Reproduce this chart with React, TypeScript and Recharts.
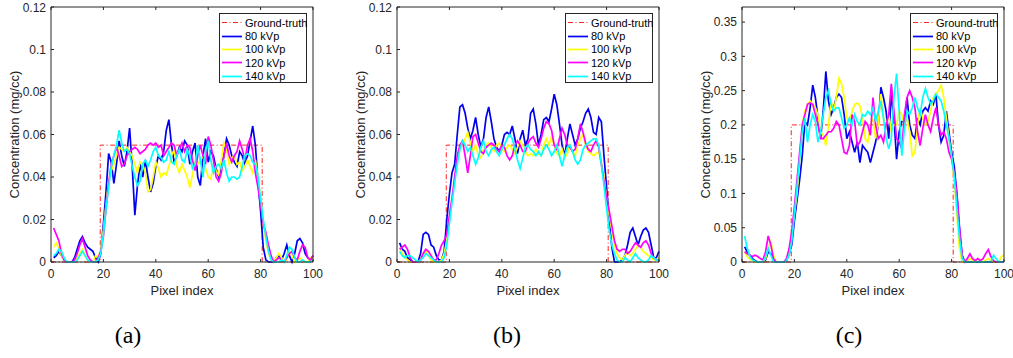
import { LineChart, Line, XAxis, YAxis, Legend } from 'recharts';

const pixelIndex = Array.from({ length: 100 }, (_, i) => i + 1);
const seriesNames = ['80 kVp', '100 kVp', '120 kVp', '140 kVp'];
const seriesColors = ['#0000f0', '#ffff00', '#ff00ff', '#00ffff'];
const legendOrder = ['Ground-truth', ...seriesNames];

const xTicks = [0, 20, 40, 60, 80, 100];
const yTicksLow = [0, 0.02, 0.04, 0.06, 0.08, 0.1, 0.12];
const yTicksHigh = [0, 0.05, 0.1, 0.15, 0.2, 0.25, 0.3, 0.35];

const gtX = [0, 18.8, 18.8, 80.6, 80.6, 100];
const gtA = [0, 0, 0.055, 0.055, 0, 0];
const gtB = [0, 0, 0.055, 0.055, 0, 0];
const gtC = [0, 0, 0.2, 0.2, 0, 0];

// (a)
const a80 = [
  0.002, 0.003, 0.005, 0.003, 0.001, 0, 0, 0, 0.002, 0.006,
  0.010, 0.012, 0.009, 0.007, 0.006, 0.005, 0.002, 0, 0.004, 0.018,
  0.033, 0.051, 0.047, 0.037, 0.046, 0.057, 0.050, 0.045, 0.052, 0.063,
  0.045, 0.022, 0.036, 0.046, 0.040, 0.048, 0.040, 0.033, 0.037, 0.045,
  0.050, 0.048, 0.052, 0.062, 0.067, 0.055, 0.047, 0.050, 0.054, 0.052,
  0.057, 0.055, 0.046, 0.052, 0.056, 0.040, 0.036, 0.050, 0.058, 0.047,
  0.052, 0.050, 0.044, 0.040, 0.045, 0.050, 0.058, 0.055, 0.050, 0.047,
  0.045, 0.052, 0.050, 0.046, 0.050, 0.057, 0.064, 0.055, 0.038, 0.024,
  0.007, 0.001, 0, 0, 0, 0.002, 0.003, 0.001, 0.004, 0.008,
  0.003, 0, 0.004, 0.010, 0.011, 0.009, 0.004, 0.002, 0.001, 0.003,
];
const a100 = [
  0.007, 0.009, 0.006, 0.003, 0.001, 0, 0, 0, 0, 0.002,
  0.004, 0.006, 0.003, 0.001, 0, 0, 0.003, 0.002, 0.006, 0.015,
  0.027, 0.038, 0.043, 0.046, 0.050, 0.054, 0.053, 0.052, 0.054, 0.052,
  0.050, 0.046, 0.042, 0.047, 0.046, 0.042, 0.033, 0.034, 0.040, 0.047,
  0.044, 0.040, 0.042, 0.041, 0.045, 0.050, 0.053, 0.045, 0.042, 0.046,
  0.043, 0.040, 0.035, 0.041, 0.047, 0.046, 0.048, 0.050, 0.044, 0.040,
  0.039, 0.046, 0.043, 0.041, 0.048, 0.056, 0.053, 0.046, 0.049, 0.050,
  0.046, 0.047, 0.043, 0.045, 0.048, 0.045, 0.042, 0.048, 0.040, 0.030,
  0.018, 0.010, 0.004, 0.001, 0, 0.002, 0.004, 0.002, 0, 0.001,
  0.005, 0.003, 0, 0.001, 0.002, 0.001, 0, 0, 0.002, 0.002,
];
const a120 = [
  0.016, 0.013, 0.010, 0.004, 0.001, 0, 0, 0, 0.001, 0.004,
  0.008, 0.011, 0.007, 0.003, 0.001, 0, 0, 0.002, 0.005, 0.012,
  0.025, 0.037, 0.046, 0.050, 0.054, 0.050, 0.045, 0.046, 0.050, 0.052,
  0.053, 0.054, 0.053, 0.051, 0.052, 0.053, 0.055, 0.056, 0.055, 0.056,
  0.054, 0.055, 0.050, 0.052, 0.054, 0.056, 0.055, 0.050, 0.053, 0.056,
  0.052, 0.055, 0.054, 0.048, 0.043, 0.050, 0.055, 0.050, 0.046, 0.059,
  0.055, 0.048, 0.040, 0.038, 0.042, 0.050, 0.056, 0.050, 0.047, 0.050,
  0.052, 0.057, 0.053, 0.048, 0.055, 0.058, 0.052, 0.042, 0.035, 0.027,
  0.018, 0.014, 0.008, 0.003, 0, 0.001, 0.002, 0.001, 0, 0.002,
  0.004, 0.005, 0.002, 0.001, 0.005, 0.008, 0.007, 0.002, 0.001, 0.003,
];
const a140 = [
  0.003, 0.004, 0.006, 0.005, 0.002, 0, 0, 0, 0, 0.001,
  0.003, 0.005, 0.003, 0.001, 0, 0, 0, 0.001, 0.004, 0.013,
  0.025, 0.035, 0.045, 0.050, 0.055, 0.062, 0.056, 0.052, 0.053, 0.051,
  0.045, 0.040, 0.036, 0.038, 0.046, 0.048, 0.045, 0.048, 0.052, 0.054,
  0.050, 0.049, 0.047, 0.048, 0.052, 0.047, 0.046, 0.050, 0.053, 0.048,
  0.047, 0.053, 0.050, 0.044, 0.046, 0.055, 0.048, 0.040, 0.052, 0.057,
  0.048, 0.042, 0.045, 0.046, 0.044, 0.048, 0.042, 0.038, 0.040, 0.040,
  0.039, 0.040, 0.045, 0.050, 0.051, 0.050, 0.047, 0.046, 0.040, 0.030,
  0.020, 0.012, 0.005, 0.001, 0, 0, 0, 0.001, 0, 0.003,
  0.007, 0.006, 0.002, 0, 0, 0.001, 0, 0, 0, 0.001,
];

// (b)
const b80 = [
  0.009, 0.006, 0.005, 0.002, 0.001, 0, 0, 0, 0.004, 0.013,
  0.014, 0.013, 0.008, 0.007, 0.003, 0.001, 0.001, 0.005, 0.020, 0.032,
  0.042, 0.046, 0.060, 0.073, 0.074, 0.070, 0.063, 0.058, 0.062, 0.068,
  0.060, 0.054, 0.058, 0.068, 0.073, 0.066, 0.058, 0.054, 0.052, 0.055,
  0.060, 0.061, 0.060, 0.064, 0.058, 0.051, 0.058, 0.062, 0.055, 0.058,
  0.070, 0.072, 0.065, 0.055, 0.060, 0.067, 0.068, 0.066, 0.072, 0.079,
  0.074, 0.065, 0.055, 0.050, 0.058, 0.065, 0.060, 0.055, 0.058, 0.063,
  0.066, 0.070, 0.072, 0.068, 0.061, 0.060, 0.068, 0.066, 0.050, 0.035,
  0.020, 0.007, 0, 0, 0, 0.001, 0.003, 0.008, 0.014, 0.016,
  0.012, 0.008, 0.012, 0.015, 0.016, 0.014, 0.008, 0.002, 0.002, 0.005,
];
const b100 = [
  0.007, 0.004, 0.002, 0.001, 0, 0, 0, 0, 0.001, 0.004,
  0.005, 0.003, 0.001, 0, 0, 0, 0.001, 0.004, 0.010, 0.020,
  0.030, 0.040, 0.048, 0.053, 0.055, 0.058, 0.061, 0.056, 0.052, 0.055,
  0.050, 0.049, 0.053, 0.055, 0.056, 0.054, 0.052, 0.055, 0.056, 0.053,
  0.052, 0.054, 0.055, 0.053, 0.051, 0.054, 0.057, 0.055, 0.052, 0.050,
  0.051, 0.050, 0.053, 0.051, 0.050, 0.055, 0.058, 0.055, 0.059, 0.055,
  0.051, 0.050, 0.053, 0.049, 0.051, 0.055, 0.052, 0.050, 0.055, 0.058,
  0.060, 0.055, 0.052, 0.051, 0.050, 0.051, 0.052, 0.047, 0.040, 0.030,
  0.022, 0.015, 0.008, 0.004, 0.002, 0.001, 0.003, 0.005, 0.003, 0.004,
  0.006, 0.008, 0.007, 0.005, 0.004, 0.003, 0.002, 0.001, 0.001, 0.002,
];
const b120 = [
  0.006, 0.007, 0.008, 0.006, 0.002, 0, 0, 0, 0.001, 0.004,
  0.006, 0.005, 0.003, 0.001, 0.001, 0.004, 0.008, 0.010, 0.013, 0.022,
  0.030, 0.040, 0.050, 0.055, 0.057, 0.050, 0.042, 0.050, 0.059, 0.060,
  0.056, 0.052, 0.051, 0.054, 0.055, 0.056, 0.055, 0.053, 0.052, 0.055,
  0.054, 0.050, 0.048, 0.050, 0.055, 0.057, 0.055, 0.052, 0.052, 0.056,
  0.058, 0.059, 0.056, 0.054, 0.058, 0.063, 0.066, 0.065, 0.062, 0.055,
  0.053, 0.058, 0.063, 0.060, 0.055, 0.054, 0.052, 0.053, 0.058, 0.065,
  0.061, 0.056, 0.053, 0.052, 0.055, 0.057, 0.054, 0.046, 0.038, 0.030,
  0.024, 0.017, 0.010, 0.006, 0.005, 0.006, 0.006, 0.004, 0.005, 0.007,
  0.009, 0.008, 0.007, 0.009, 0.010, 0.008, 0.004, 0.002, 0.001, 0.001,
];
const b140 = [
  0.005, 0.003, 0.002, 0.003, 0.003, 0.002, 0.001, 0, 0.001, 0.002,
  0.004, 0.003, 0.002, 0.001, 0, 0, 0, 0.002, 0.008, 0.018,
  0.028, 0.037, 0.046, 0.053, 0.057, 0.055, 0.052, 0.054, 0.050, 0.046,
  0.049, 0.054, 0.057, 0.052, 0.050, 0.053, 0.054, 0.052, 0.050, 0.053,
  0.055, 0.058, 0.060, 0.058, 0.053, 0.048, 0.044, 0.049, 0.054, 0.055,
  0.053, 0.052, 0.050, 0.052, 0.050, 0.053, 0.055, 0.053, 0.050, 0.052,
  0.055, 0.050, 0.045, 0.050, 0.054, 0.055, 0.052, 0.048, 0.046, 0.048,
  0.053, 0.055, 0.056, 0.057, 0.058, 0.058, 0.055, 0.046, 0.036, 0.025,
  0.015, 0.008, 0.004, 0.001, 0, 0, 0.002, 0.001, 0, 0.002,
  0.004, 0.002, 0.001, 0, 0, 0.001, 0.003, 0.002, 0.001, 0.001,
];

// (c)
const c80 = [
  0.022, 0.015, 0.010, 0.005, 0.002, 0, 0, 0, 0.003, 0.015,
  0.012, 0.005, 0, 0, 0, 0, 0.002, 0.012, 0.025, 0.060,
  0.090, 0.120, 0.155, 0.205, 0.200, 0.225, 0.258, 0.240, 0.210, 0.180,
  0.220, 0.278, 0.235, 0.215, 0.225, 0.240, 0.245, 0.240, 0.215, 0.180,
  0.190, 0.175, 0.160, 0.175, 0.145, 0.170, 0.165, 0.160, 0.145, 0.160,
  0.175, 0.200, 0.255, 0.240, 0.220, 0.180, 0.245, 0.210, 0.150, 0.190,
  0.205, 0.205, 0.240, 0.200, 0.185, 0.180, 0.210, 0.200, 0.220, 0.225,
  0.220, 0.235, 0.230, 0.245, 0.200, 0.175, 0.185, 0.220, 0.190, 0.160,
  0.140, 0.100, 0.050, 0.010, 0, 0, 0, 0, 0, 0,
  0, 0, 0, 0, 0, 0, 0, 0, 0, 0,
];
const c100 = [
  0.015, 0.008, 0.004, 0.002, 0, 0, 0, 0, 0.005, 0.020,
  0.030, 0.010, 0, 0, 0, 0, 0.003, 0.015, 0.040, 0.070,
  0.100, 0.150, 0.200, 0.220, 0.230, 0.235, 0.230, 0.225, 0.215, 0.190,
  0.185, 0.170, 0.200, 0.235, 0.220, 0.240, 0.268, 0.260, 0.240, 0.210,
  0.205, 0.220, 0.230, 0.232, 0.228, 0.210, 0.180, 0.175, 0.200, 0.210,
  0.180, 0.200, 0.245, 0.210, 0.200, 0.215, 0.190, 0.200, 0.200, 0.220,
  0.215, 0.200, 0.210, 0.190, 0.155, 0.160, 0.200, 0.225, 0.210, 0.200,
  0.205, 0.220, 0.240, 0.245, 0.250, 0.258, 0.240, 0.210, 0.180, 0.150,
  0.120, 0.070, 0.020, 0, 0, 0.002, 0.005, 0.002, 0, 0.005,
  0.002, 0, 0.003, 0.005, 0.002, 0, 0, 0, 0.008, 0.010,
];
const c120 = [
  0.015, 0.012, 0.010, 0.008, 0.010, 0.008, 0.005, 0.003, 0.015, 0.038,
  0.025, 0.005, 0, 0, 0, 0, 0.005, 0.020, 0.045, 0.080,
  0.120, 0.160, 0.200, 0.215, 0.230, 0.232, 0.230, 0.215, 0.200, 0.180,
  0.180, 0.185, 0.190, 0.190, 0.195, 0.205, 0.200, 0.180, 0.160, 0.158,
  0.170, 0.215, 0.205, 0.170, 0.175, 0.190, 0.205, 0.200, 0.185, 0.240,
  0.200, 0.180, 0.185, 0.175, 0.200, 0.215, 0.260, 0.220, 0.180, 0.175,
  0.165, 0.215, 0.240, 0.250, 0.240, 0.225, 0.190, 0.170, 0.195, 0.215,
  0.200, 0.190, 0.210, 0.225, 0.200, 0.185, 0.190, 0.180, 0.160, 0.150,
  0.130, 0.100, 0.050, 0.010, 0, 0.005, 0.012, 0.005, 0.002, 0.005,
  0.002, 0.005, 0.012, 0.018, 0.008, 0.002, 0, 0, 0, 0,
];
const c140 = [
  0.038, 0.020, 0.008, 0.003, 0.001, 0, 0, 0, 0.008, 0.020,
  0.010, 0, 0, 0, 0, 0, 0.002, 0.010, 0.030, 0.070,
  0.110, 0.150, 0.190, 0.210, 0.175, 0.200, 0.215, 0.205, 0.175, 0.190,
  0.215, 0.240, 0.250, 0.230, 0.220, 0.225, 0.225, 0.210, 0.195, 0.200,
  0.210, 0.200, 0.215, 0.205, 0.200, 0.215, 0.213, 0.220, 0.215, 0.225,
  0.205, 0.220, 0.235, 0.210, 0.180, 0.165, 0.180, 0.240, 0.275, 0.220,
  0.155, 0.195, 0.220, 0.215, 0.225, 0.240, 0.225, 0.215, 0.240, 0.253,
  0.240, 0.230, 0.235, 0.245, 0.240, 0.235, 0.220, 0.200, 0.180, 0.155,
  0.125, 0.080, 0.035, 0.005, 0, 0, 0, 0, 0, 0,
  0, 0, 0, 0, 0, 0.010, 0.005, 0, 0, 0,
];

const FONT = '"Liberation Sans", Arial, sans-serif';
const AXIS = '#262626';

function LegendBox({ payload }: any) {
  const items = [...(payload || [])].sort(
    (p: any, q: any) => legendOrder.indexOf(p.value) - legendOrder.indexOf(q.value),
  );
  return (
    <div
      style={{
        width: 88,
        height: 70,
        boxSizing: 'border-box',
        border: `1px solid ${AXIS}`,
        background: '#fff',
        paddingTop: 2,
        fontFamily: FONT,
        fontSize: 11,
        color: '#000',
      }}
    >
      {items.map((p: any) => (
        <div key={p.value} style={{ height: 13.4, display: 'flex', alignItems: 'center', whiteSpace: 'nowrap' }}>
          <svg width={25} height={13} style={{ flex: 'none' }}>
            <line
              x1={2}
              x2={22}
              y1={6.5}
              y2={6.5}
              stroke={p.color}
              strokeWidth={p.value === 'Ground-truth' ? 1 : 1.7}
              strokeDasharray={p.value === 'Ground-truth' ? '5 2.5 1 2.5' : undefined}
            />
          </svg>
          <span>{p.value}</span>
        </div>
      ))}
    </div>
  );
}

interface PanelProps {
  left: number;
  axisW: number;
  marginRight: number;
  series: number[][];
  gt: number[];
  yMax: number;
  yTicks: number[];
}

function Panel({ left, axisW, marginRight, series, gt, yMax, yTicks }: PanelProps) {
  const rows = pixelIndex.map((x, i) => {
    const r: any = { x };
    seriesNames.forEach((n, k) => (r[n] = series[k][i]));
    return r;
  });
  const gtRows = gtX.map((x, i) => ({ x, gt: gt[i] }));
  const W = 330;
  const plotRight = W - marginRight - 1;
  const tickStyle = { fontSize: 12, fill: AXIS, fontFamily: FONT };

  return (
    <div style={{ position: 'absolute', left, top: 0 }}>
      <LineChart width={W} height={300} data={rows} margin={{ top: 6, right: marginRight, bottom: 5, left: 0 }}>
        <XAxis
          dataKey="x"
          type="number"
          domain={[0, 100]}
          ticks={xTicks}
          height={33}
          tickSize={-3}
          tickMargin={10}
          stroke={AXIS}
          tick={tickStyle}
          label={{ value: 'Pixel index', position: 'insideBottom', offset: 0, fontSize: 13, fill: AXIS, fontFamily: FONT }}
        />
        <XAxis
          xAxisId="top"
          orientation="top"
          dataKey="x"
          type="number"
          domain={[0, 100]}
          ticks={xTicks}
          height={1}
          tickSize={-3}
          stroke={AXIS}
          tick={{ fontSize: 0 }}
          tickFormatter={() => ''}
        />
        <YAxis
          type="number"
          domain={[0, yMax]}
          ticks={yTicks}
          width={axisW}
          tickSize={-3}
          tickMargin={8}
          stroke={AXIS}
          tick={tickStyle}
          tickFormatter={(v: number) => String(v)}
          label={{
            value: 'Concentration (mg/cc)',
            angle: -90,
            position: 'insideLeft',
            offset: axisW - 37,
            fontSize: 13,
            fill: AXIS,
            fontFamily: FONT,
            style: { textAnchor: 'middle' },
          }}
        />
        <YAxis
          yAxisId="right"
          orientation="right"
          type="number"
          domain={[0, yMax]}
          ticks={yTicks}
          width={1}
          tickSize={-3}
          stroke={AXIS}
          tick={{ fontSize: 0 }}
          tickFormatter={() => ''}
        />
        <Legend
          layout="vertical"
          align="center"
          verticalAlign="middle"
          content={<LegendBox />}
          wrapperStyle={{ left: plotRight - 6 - 88, top: 13, width: 88, height: 70 }}
        />
        <Line
          data={gtRows}
          dataKey="gt"
          name="Ground-truth"
          type="linear"
          stroke="#ff2020"
          strokeWidth={1}
          strokeDasharray="5 2.5 1 2.5"
          dot={false}
          activeDot={false}
          isAnimationActive={false}
        />
        {seriesNames.map((n, k) => (
          <Line
            key={n}
            dataKey={n}
            name={n}
            type="linear"
            stroke={seriesColors[k]}
            strokeWidth={1.7}
            dot={false}
            activeDot={false}
            isAnimationActive={false}
          />
        ))}
      </LineChart>
    </div>
  );
}

const captionStyle = {
  position: 'absolute' as const,
  top: 322,
  width: 60,
  textAlign: 'center' as const,
  fontFamily: '"Liberation Serif", "Times New Roman", serif',
  fontSize: 24,
  color: '#000',
};

export default function App() {
  return (
    <div style={{ position: 'fixed', left: 0, top: 0, width: 1013, height: 358, background: '#fff', overflow: 'hidden' }}>
      <Panel left={0} axisW={51} marginRight={16} series={[a80, a100, a120, a140]} gt={gtA} yMax={0.12} yTicks={yTicksLow} />
      <Panel left={340} axisW={57} marginRight={10} series={[b80, b100, b120, b140]} gt={gtB} yMax={0.12} yTicks={yTicksLow} />
      <Panel left={683} axisW={59} marginRight={8} series={[c80, c100, c120, c140]} gt={gtC} yMax={0.372} yTicks={yTicksHigh} />
      <div style={{ ...captionStyle, left: 98 }}>(a)</div>
      <div style={{ ...captionStyle, left: 477 }}>(b)</div>
      <div style={{ ...captionStyle, left: 819 }}>(c)</div>
    </div>
  );
}
